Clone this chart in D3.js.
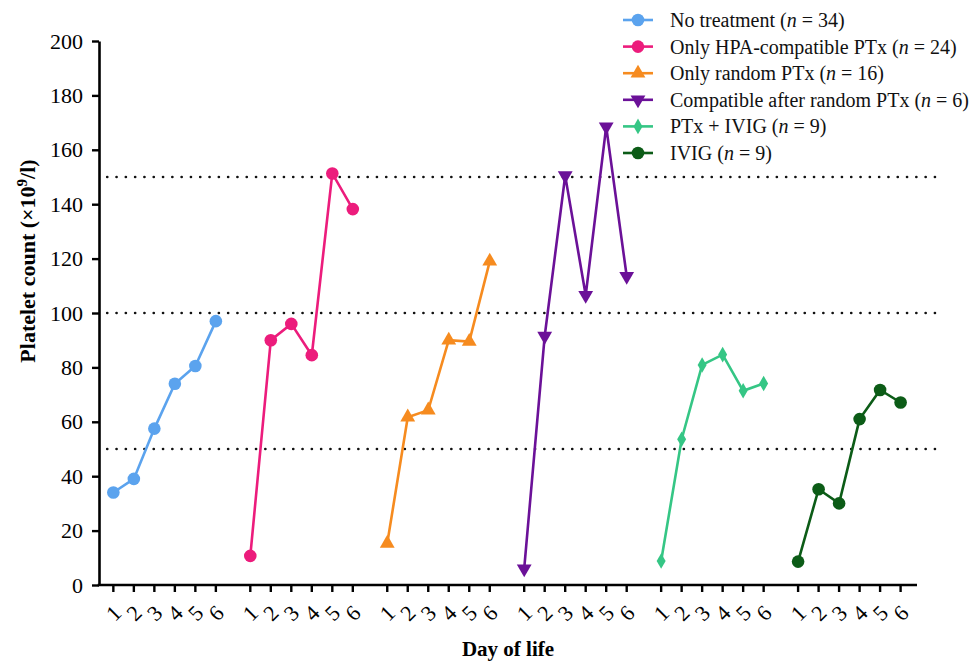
<!DOCTYPE html>
<html>
<head>
<meta charset="utf-8">
<script src="https://cdn.jsdelivr.net/npm/d3@7"></script>
<style>
  body { margin: 0; background: #fff; }
  text { font-family: "Liberation Serif", "Times New Roman", serif; }
</style>
</head>
<body>
<div id="chart"></div>
<script>
// groups (one per treatment), days and platelet values
const groupNames = ["No treatment", "Only HPA-compatible PTx", "Only random PTx",
                    "Compatible after random PTx", "PTx + IVIG", "IVIG"];
const groupN = [34, 24, 16, 6, 9, 9];
const days = [1, 2, 3, 4, 5, 6];

const noTreatment     = [34, 39, 57.5, 74, 80.5, 97];
const onlyHpa         = [10.7, 90, 96, 84.5, 151.3, 138.2];
const onlyRandom      = [15.3, 61.7, 64.3, 90, 89.5, 119];
const compatibleAfter = [6, 91.5, 150.5, 106.5, 168.5, 113.5];
const ptxIvig         = [8.8, 53.6, 80.9, 84.7, 71.4, 74.1];
const ivig            = [8.6, 35.2, 30, 61, 71.7, 67.1];

const yTicks = [0, 20, 40, 60, 80, 100, 120, 140, 160, 180, 200];
const refLines = [50, 100, 150];

const seriesValues = [noTreatment, onlyHpa, onlyRandom, compatibleAfter, ptxIvig, ivig];
const colors = ["#5ba3ee", "#ec1c7c", "#f68b1f", "#6b1198", "#35c685", "#0c5c17"];
const symbols = ["circle", "circle", "up", "down", "diamond", "circle"];

const width = 973, height = 661;
const groupStep = 6.68; // distance between group starts in day units

const svg = d3.select("#chart").append("svg")
  .attr("width", width).attr("height", height);

const x = d3.scaleLinear().domain([-0.7, 39.2]).range([99, 917]);
const y = d3.scaleLinear().domain([0, 200]).range([585, 41]);
const pos = (g, d) => x(g * groupStep + (d - 1));

// dotted reference lines
svg.append("g").selectAll("line").data(refLines).join("line")
  .attr("x1", x(-0.3)).attr("x2", x(40.5))
  .attr("y1", d => y(d)).attr("y2", d => y(d))
  .attr("stroke", "#111").attr("stroke-width", 2.6)
  .attr("stroke-linecap", "round")
  .attr("stroke-dasharray", "0.1,9.2");

// y axis
const yAxis = svg.append("g")
  .attr("transform", `translate(${x(-0.7)},0)`)
  .call(d3.axisLeft(y).tickValues(yTicks).tickSize(7).tickPadding(9).tickSizeOuter(0));
yAxis.select(".domain").attr("stroke", "#000").attr("stroke-width", 2.6);
yAxis.selectAll(".tick line").attr("stroke", "#000").attr("stroke-width", 2.4);
yAxis.selectAll(".tick text")
  .attr("font-family", "Liberation Serif").attr("font-size", 22).attr("fill", "#000");

// x axis: 6 days per group
const xTickData = [];
groupNames.forEach((n, g) => days.forEach(d => xTickData.push({ g, d })));

const xAxis = svg.append("g");
xAxis.append("line")
  .attr("x1", x(-0.7) - 1.3).attr("x2", x(39.2))
  .attr("y1", y(0)).attr("y2", y(0))
  .attr("stroke", "#000").attr("stroke-width", 2.6);
xAxis.selectAll("line.tk").data(xTickData).join("line").attr("class", "tk")
  .attr("x1", d => pos(d.g, d.d)).attr("x2", d => pos(d.g, d.d))
  .attr("y1", y(0)).attr("y2", y(0) + 7)
  .attr("stroke", "#000").attr("stroke-width", 2.4);
xAxis.selectAll("text").data(xTickData).join("text")
  .attr("transform", d => `translate(${pos(d.g, d.d)},${y(0) + 28}) rotate(-45)`)
  .attr("text-anchor", "middle").attr("dy", "0.35em")
  .attr("font-size", 22).attr("fill", "#000")
  .text(d => d.d);

// axis titles
svg.append("text")
  .attr("transform", `translate(35,261) rotate(-90)`)
  .attr("text-anchor", "middle").attr("font-weight", "bold").attr("font-size", 22)
  .call(t => {
    t.append("tspan").text("Platelet count (×10");
    t.append("tspan").attr("dy", -8).attr("font-size", 15).text("9");
    t.append("tspan").attr("dy", 8).text("/l)");
  });

svg.append("text")
  .attr("x", 508).attr("y", 656)
  .attr("text-anchor", "middle").attr("font-weight", "bold").attr("font-size", 21)
  .text("Day of life");

// marker shapes
function drawMarker(sel, kind, color) {
  if (kind === "circle") {
    sel.append("circle").attr("r", 6.3).attr("fill", color);
  } else if (kind === "diamond") {
    sel.append("path").attr("d", d3.symbol(d3.symbolDiamond, 70)()).attr("fill", color);
  } else {
    sel.append("path").attr("d", d3.symbol(d3.symbolTriangle, 95)())
      .attr("transform", kind === "down" ? "rotate(180)" : null)
      .attr("fill", color);
  }
}

// lines and points
const line = d3.line().x(d => d.px).y(d => d.py);
seriesValues.forEach((vals, g) => {
  const pts = vals.map((v, i) => ({ px: pos(g, days[i]), py: y(v) }));
  svg.append("path").datum(pts)
    .attr("fill", "none").attr("stroke", colors[g]).attr("stroke-width", 2.6)
    .attr("d", line);
  svg.append("g").selectAll("g").data(pts).join("g")
    .attr("transform", d => `translate(${d.px},${d.py})`)
    .each(function () { drawMarker(d3.select(this), symbols[g], colors[g]); });
});

// legend
const legend = svg.append("g");
groupNames.forEach((name, i) => {
  const ly = 20 + i * 26.6;
  const row = legend.append("g").attr("transform", `translate(0,${ly})`);
  row.append("line").attr("x1", 623).attr("x2", 653)
    .attr("stroke", colors[i]).attr("stroke-width", 2.6);
  drawMarker(row.append("g").attr("transform", "translate(638,0)"), symbols[i], colors[i]);
  const t = row.append("text").attr("x", 670).attr("dy", "0.35em")
    .attr("font-size", 20).attr("fill", "#111");
  t.append("tspan").text(name + " (");
  t.append("tspan").attr("font-style", "italic").text("n");
  t.append("tspan").text(" = " + groupN[i] + ")");
});
</script>
</body>
</html>
